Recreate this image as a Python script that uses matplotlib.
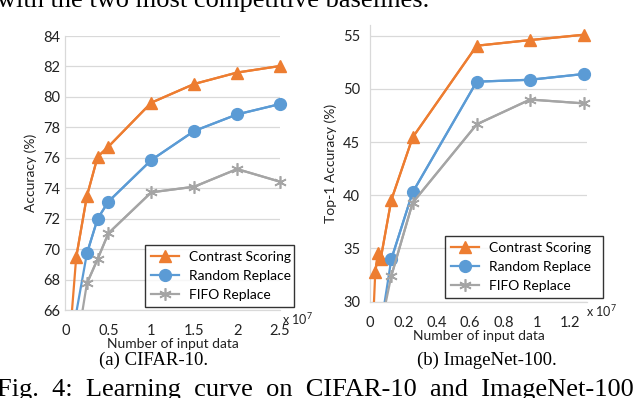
import matplotlib
matplotlib.use("Agg")
import matplotlib.pyplot as plt

plt.rcParams['font.family'] = ['Lato', 'DejaVu Sans']
plt.rcParams['mathtext.default'] = 'regular'

# ---- Data (x in units of 1e7) ----
cifar_x_contrast = [0.0625, 0.125, 0.25, 0.375, 0.5, 1.0, 1.5, 2.0, 2.5]
cifar_contrast = [65.0, 69.46, 73.49, 76.07, 76.73, 79.62, 80.85, 81.6, 82.03]
cifar_x_base = [0.125, 0.25, 0.375, 0.5, 1.0, 1.5, 2.0, 2.5]
cifar_random = [65.8, 69.72, 72.0, 73.12, 75.85, 77.76, 78.85, 79.53]
cifar_fifo = [63.4, 67.75, 69.35, 71.04, 73.73, 74.1, 75.26, 74.43]

inet_x_contrast = [0.016, 0.032, 0.048, 0.064, 0.128, 0.256, 0.64, 0.96, 1.28]
inet_contrast = [27.0, 32.76, 34.54, 33.98, 39.55, 45.44, 54.06, 54.59, 55.09]
inet_x_base = [0.064, 0.128, 0.256, 0.64, 0.96, 1.28]
inet_random = [27.5, 33.98, 40.28, 50.68, 50.86, 51.4]
inet_fifo = [27.6, 32.41, 39.3, 46.67, 49.0, 48.64]

series_names = ["Contrast Scoring", "Random Replace", "FIFO Replace"]
cifar_xticks = [0, 0.5, 1, 1.5, 2, 2.5]
cifar_xticklabels = ["0", "0.5", "1", "1.5", "2", "2.5"]
cifar_yticks = [66, 68, 70, 72, 74, 76, 78, 80, 82, 84]
inet_xticks = [0, 0.2, 0.4, 0.6, 0.8, 1.0, 1.2]
inet_xticklabels = ["0", "0.2", "0.4", "0.6", "0.8", "1", "1.2"]
inet_yticks = [30, 35, 40, 45, 50, 55]

ORANGE = "#ED7D31"
BLUE = "#5B9BD5"
GRAY = "#A5A5A5"
GRID = "#D9D9D9"

styles = [
    dict(color=ORANGE, marker="^", markersize=9),
    dict(color=BLUE, marker="o", markersize=8.5),
    dict(color=GRAY, marker=(6, 2, 0), markersize=9, markeredgewidth=1.2),
]

fig = plt.figure(figsize=(6.4, 3.98), dpi=100)


def draw(ax, xs_list, ys_list, ymin, xlim, ylim, xticks, xticklabels, yticks,
         ylabel, ypad, legend_bbox):
    handles = []
    for xs, ys, st, name in zip(xs_list, ys_list, styles, series_names):
        # full line (clipped at the axis bottom)
        ax.plot(xs, ys, color=st["color"], lw=1.6, clip_on=True, zorder=3)
        vis_x = [x for x, y in zip(xs, ys) if y >= ymin]
        vis_y = [y for y in ys if y >= ymin]
        h, = ax.plot(vis_x, vis_y, lw=1.6, clip_on=False, zorder=4,
                     label=name, **st)
        handles.append(h)
    ax.set_xlim(*xlim)
    ax.set_ylim(*ylim)
    ax.set_xticks(xticks)
    ax.set_xticklabels(xticklabels)
    ax.set_yticks(yticks)
    ax.yaxis.grid(True, color=GRID, lw=0.9)
    ax.set_axisbelow(True)
    for s in ["top", "right"]:
        ax.spines[s].set_visible(False)
    for s in ["left", "bottom"]:
        ax.spines[s].set_color(GRID)
        ax.spines[s].set_linewidth(0.9)
    ax.tick_params(axis="both", length=0, labelsize=10.5, colors="#222222")
    ax.tick_params(axis="x", pad=10)
    ax.tick_params(axis="y", pad=ypad)
    ax.set_ylabel(ylabel, fontsize=10, color="#222222", labelpad=4)
    ax.set_xlabel("Number of input data", fontsize=10, color="#222222",
                  labelpad=0)
    leg = ax.legend(handles=handles, loc="lower left", bbox_to_anchor=legend_bbox,
                    mode="expand", borderaxespad=0, fontsize=10,
                    frameon=True, fancybox=False, edgecolor="black",
                    handlelength=2.0, handletextpad=0.7, labelspacing=0.5,
                    borderpad=0.45)
    leg.get_frame().set_linewidth(1.0)
    leg.set_zorder(5)
    return ax


ax1 = fig.add_axes([0.1023, 0.2211, 0.3352, 0.6884])
draw(ax1, [cifar_x_contrast, cifar_x_base, cifar_x_base],
     [cifar_contrast, cifar_random, cifar_fifo], 66,
     (0, 2.5), (66, 84), cifar_xticks, cifar_xticklabels, cifar_yticks,
     "Accuracy (%)", 4, (0.371, 0.011, 0.694, 0.244))
ax1.text(1.01, -0.005, r"x 10$^{7}$", transform=ax1.transAxes, fontsize=9,
         ha="left", va="top", color="#222222")

ax2 = fig.add_axes([0.578, 0.242, 0.339, 0.695])
draw(ax2, [inet_x_contrast, inet_x_base, inet_x_base],
     [inet_contrast, inet_random, inet_fifo], 30,
     (0, 1.3), (30, 56), inet_xticks, inet_xticklabels, inet_yticks,
     "Top-1 Accuracy (%)", 7, (0.346, 0.013, 0.728, 0.246))
ax2.text(0.995, -0.005, r"x 10$^{7}$", transform=ax2.transAxes, fontsize=9,
         ha="left", va="top", color="#222222")

serif = ["Liberation Serif", "DejaVu Serif"]
fig.text(0.24, 1 - 360 / 398, "(a) CIFAR-10.", family=serif, fontsize=13.5,
         ha="center", va="center")
fig.text(0.76, 1 - 360 / 398, "(b) ImageNet-100.", family=serif, fontsize=13.5,
         ha="center", va="center")
fig.text(-0.004, 2 / 398, "Fig.  4:  Learning  curve  on  CIFAR-10  and  ImageNet-100",
         family=serif, fontsize=19, ha="left", va="baseline")
fig.text(-0.004, 1 - 7 / 398, "with the two most competitive baselines.",
         family=serif, fontsize=19, ha="left", va="baseline")

fig.savefig("out.png", dpi=100)
